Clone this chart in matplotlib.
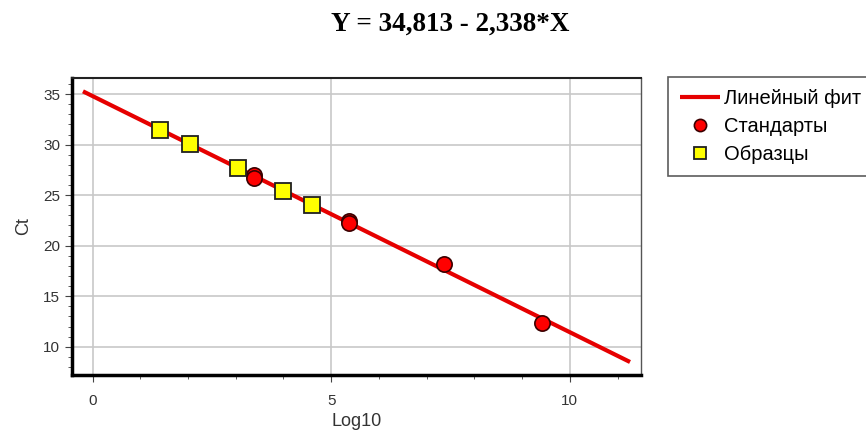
import numpy as np
import matplotlib.pyplot as plt
from matplotlib.ticker import MultipleLocator

plt.rcParams['font.family'] = ['Liberation Sans', 'DejaVu Sans']

# данные
std_x = [3.38, 3.38, 5.38, 5.38, 7.37, 9.41]
std_y = [26.98, 26.7, 22.46, 22.25, 18.17, 12.36]
smp_x = [1.41, 2.04, 3.04, 3.99, 4.59]
smp_y = [31.44, 30.05, 27.7, 25.4, 24.0]
fit_b = 34.813
fit_k = -2.338
fit_x = [-0.2, 11.26]

fig = plt.figure(figsize=(8.66, 4.34), dpi=100)
ax = fig.add_axes([72 / 866, 59 / 434, 569 / 866, 297 / 434])

fx = np.array(fit_x)
ax.plot(fx, fit_b + fit_k * fx, color='#e60000', lw=3, solid_capstyle='butt',
        label='Линейный фит', zorder=3)
ax.plot(std_x, std_y, 'o', ms=11, mfc='#ff0000', mec='#3a0000', mew=1.2,
        label='Стандарты', zorder=4)
ax.plot(smp_x, smp_y, 's', ms=11.5, mfc='#ffff00', mec='#202020', mew=1.3,
        label='Образцы', zorder=5)

ax.set_xlim(-0.43, 11.49)
ax.set_ylim(7.2, 36.6)
ax.xaxis.set_major_locator(MultipleLocator(5))
ax.xaxis.set_minor_locator(MultipleLocator(1))
ax.yaxis.set_major_locator(MultipleLocator(5))
ax.yaxis.set_minor_locator(MultipleLocator(1))
ax.grid(True, which='major', color='#c8c8c8', lw=1.2)
ax.tick_params(which='both', direction='out', colors='#444444', labelsize=11,
               labelcolor='#333333')
ax.tick_params(which='major', length=5)
ax.tick_params(which='minor', length=3)
ax.tick_params(axis='x', pad=9)

for side, w, c in [('left', 2.5, 'black'), ('bottom', 2.5, 'black'),
                   ('top', 1.5, '#222222'), ('right', 1.0, '#555555')]:
    ax.spines[side].set_linewidth(w)
    ax.spines[side].set_color(c)

ax.set_xlabel('Log10', fontsize=13, color='#333333', labelpad=3)
ax.set_ylabel('Ct', fontsize=13, color='#333333', labelpad=8)

fig.text(450 / 866, 1 - 24 / 434, 'Y = 34,813 - 2,338*X', ha='center', va='center',
         fontsize=19.5, fontweight='bold', family='Liberation Serif')

leg = fig.legend(loc='upper left', bbox_to_anchor=(668 / 866, 1 - 77 / 434),
                 borderaxespad=0, fontsize=14.5, frameon=True, fancybox=False,
                 edgecolor='#333333', borderpad=0.6, labelspacing=0.45,
                 handlelength=2.0, handletextpad=0.2, markerscale=0.8)
leg.get_frame().set_linewidth(1.2)

fig.savefig('out.png', dpi=100)
